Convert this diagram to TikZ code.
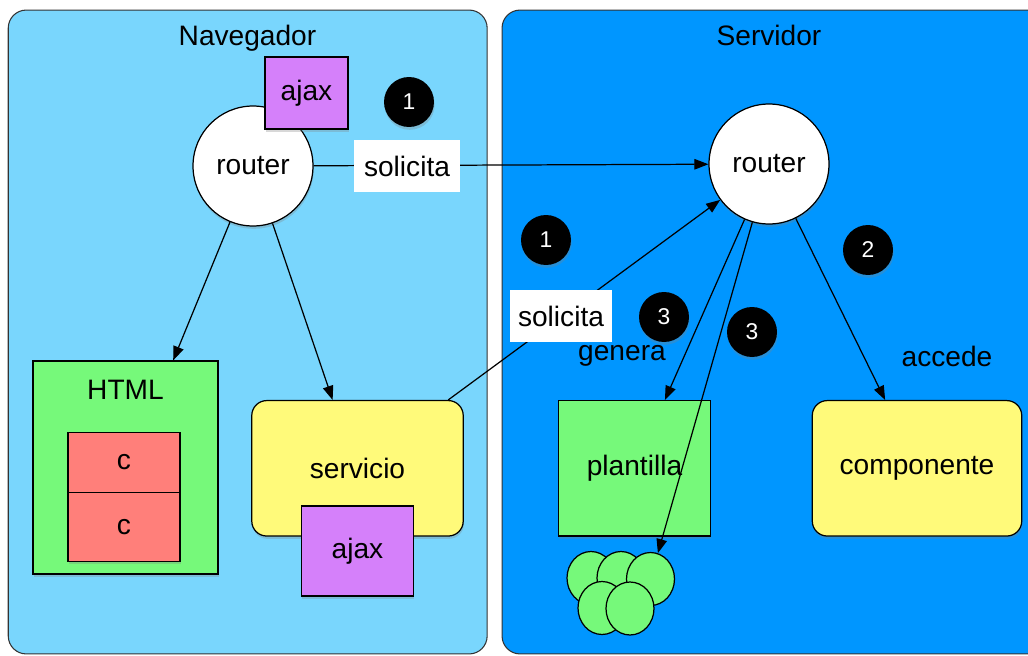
\documentclass[tikz,border=0pt]{standalone}
\usepackage{fontspec}
\setmainfont{Liberation Sans}
\usepackage{tikz}
\usetikzlibrary{arrows.meta}
\usetikzlibrary{calc}
\usetikzlibrary{positioning}
\usetikzlibrary{shapes.geometric, shadows}

\definecolor{azulNav}{RGB}{121,214,253}
\definecolor{azulServ}{RGB}{0,150,255}
\definecolor{verdeCaja}{RGB}{118,249,122}
\definecolor{rojoCaja}{RGB}{255,127,122}
\definecolor{amarilloCaja}{RGB}{255,250,122}
\definecolor{moradoCaja}{RGB}{213,128,250}

\begin{document}
\begin{tikzpicture}[
        x=0.02cm, y=-0.02cm, % Un pixel por unidad, eje y hacia abajo
        font=\fontsize{16}{19}\selectfont,
        panel/.style={draw=black!80, line width=0.6pt, rounded corners=0.36cm, inner sep=0pt}, % Estilo para los paneles
        sombra/.style={drop shadow={shadow xshift=0.4pt, shadow yshift=-1.6pt, opacity=0.3}},
        caja/.style={draw, line width=0.7pt, inner sep=0pt, sombra}, % Estilo para las cajas
        redonda/.style={caja, rounded corners=0.3cm}, % Cajas con esquinas redondeadas
        enrutador/.style={circle, draw, line width=0.7pt, fill=white, minimum size=2.4cm, inner sep=0pt, sombra},
        paso/.style={circle, fill=black, text=white, minimum size=1cm, inner sep=0pt, font=\fontsize{13}{15}\selectfont, sombra}, % Circulos numerados
        bola/.style={ellipse, draw, line width=0.7pt, fill=verdeCaja, minimum width=0.96cm, minimum height=1.06cm, inner sep=0pt},
        etiqueta/.style={fill=white, inner sep=0pt}, % Etiquetas sobre las lineas
        flecha/.style={-{Triangle[length=8pt, width=6pt]}, line width=0.7pt} % Estilo para las flechas
    ]
        % --- Marco de la figura ---
        \useasboundingbox (0,0) rectangle (1028,656);
        \clip (0,0) rectangle (1028,656);

        % --- Paneles: navegador y servidor ---
        \node[panel, fill=azulNav, minimum width=9.58cm, minimum height=12.88cm] (nav) at (247.7,332) {};
        \node[anchor=base] (tituloNav) at (247.5,45) {Navegador};
        \node[panel, fill=azulServ, minimum width=10.86cm, minimum height=12.88cm] (serv) at (773.5,332) {};
        \node[anchor=base] (tituloServ) at (769,45) {Servidor};

        % --- Lado del navegador ---
        \node[enrutador] (routerNav) at (253,166) {router};
        \node[caja, fill=moradoCaja, minimum width=1.66cm, minimum height=1.44cm] (ajaxNav) at (306.5,93) {ajax};

        \node[caja, fill=verdeCaja, minimum width=3.7cm, minimum height=4.26cm] (html) at (125.5,467.5) {};
        \node[below=0.27cm of html.north] (tituloHtml) {HTML};
        \node[caja, fill=rojoCaja, minimum width=2.24cm, minimum height=1.2cm] (compA) at (124,462.5) {c};
        \node[caja, fill=rojoCaja, minimum width=2.24cm, minimum height=1.38cm] (compB) at (124,527) {c};

        \node[redonda, fill=amarilloCaja, minimum width=4.23cm, minimum height=2.71cm] (servicio) at (357.5,468.3) {servicio};
        \node[caja, fill=moradoCaja, minimum width=2.23cm, minimum height=1.8cm] (ajaxServ) at (357.5,551) {ajax};

        % --- Lado del servidor ---
        \node[enrutador] (routerServ) at (769,164) {router};
        \node[caja, fill=verdeCaja, minimum width=3.05cm, minimum height=2.71cm] (plantilla) at (634.5,468.3) {plantilla};
        \node[redonda, fill=amarilloCaja, minimum width=4.19cm, minimum height=2.71cm] (componente) at (917,468.3) {componente};

        % Grupo de bolas generadas
        \node[bola] (bola1) at (591,578) {};
        \node[bola] (bola2) at (621,578) {};
        \node[bola] (bola3) at (650.5,579) {};
        \node[bola] (bola4) at (602,608) {};
        \node[bola] (bola5) at (630,608.5) {};

        % --- Flechas ---
        \draw[flecha] (routerNav) -- (html.66);
        \draw[flecha] (routerNav) -- (servicio.110);
        \draw[flecha] (routerNav) -- (routerServ);
        \draw[flecha] (servicio.37) -- (routerServ);
        \draw[flecha] (routerServ) -- (plantilla.66);
        \draw[flecha] (routerServ) -- (bola3);
        \draw[flecha] (routerServ) -- (componente.115);

        % --- Etiquetas y pasos numerados ---
        \node[etiqueta, minimum width=2.12cm, minimum height=1.06cm] (solicitaA) at (407,166) {solicita};
        \node[etiqueta, minimum width=2.04cm, minimum height=1.04cm] (solicitaB) at (561,316) {solicita};
        \node (genera) at (622,356) {genera};
        \node (accede) at (947,356) {accede};

        \node[paso] (paso1a) at (409,102) {1};
        \node[paso] (paso1b) at (546,240) {1};
        \node[paso] (paso2) at (868,250) {2};
        \node[paso] (paso3a) at (664,317) {3};
        \node[paso] (paso3b) at (752,332) {3};

    \end{tikzpicture}
\end{document}
